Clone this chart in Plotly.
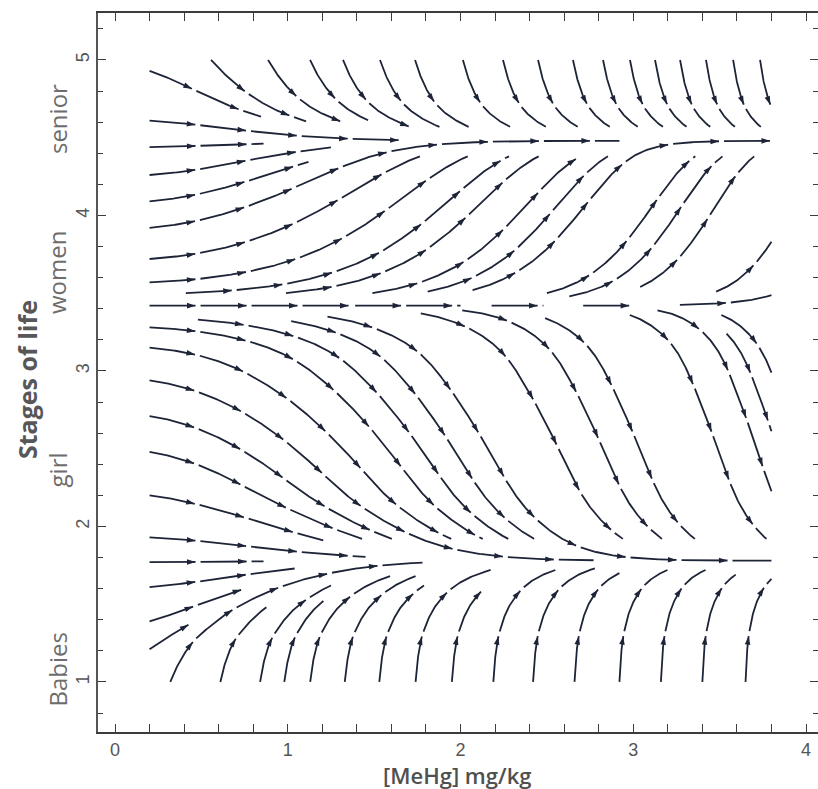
import math
import plotly.graph_objects as go

# ---------------- data ----------------
x_tick_vals = [0, 1, 2, 3, 4]
y_tick_vals = [1, 2, 3, 4, 5]
stage_names = ["Babies", "girl", "women", "senior"]
stage_levels = [1.08, 2.36, 3.63, 4.62]

# vertical drift of the stream field (per unit of [MeHg]) at stage levels
field_y = [1.0, 1.1, 1.3, 1.5, 1.65, 1.78, 1.95, 2.1, 2.3, 2.5, 2.75, 3.0, 3.2,
           3.35, 3.42, 3.6, 3.8, 4.0, 4.2, 4.34, 4.48, 4.66, 4.85, 5.0]
field_rate = [9.0, 6.0, 2.0, 0.8, 0.3, 0.0, -0.3, -0.5, -0.85, -0.9, -0.85, -0.75, -0.38,
              -0.15, 0.0, 0.25, 0.44, 0.52, 0.47, 0.31, 0.0, -0.46, -1.35, -2.2]
region_x = [0.2, 3.8]
region_y = [1.0, 5.0]

NAN = float("nan")

# streamlines entering from the top edge (y = 5)
top_x = [0.556, 0.886, 1.129, 1.320, 1.534, 1.737, 2.014, 2.246, 2.449, 2.651,
         2.825, 2.981, 3.126, 3.271, 3.421, 3.578, 3.734]
top_end_x = [1.106, 1.33, 1.465, 1.766, 1.89, 2.1, 3.8, 3.8, 3.8, 3.8,
             3.8, 3.8, 3.8, 3.8, 3.8, 3.8, 3.8]
top_end_y = [4.57] * 17

# streamlines entering from the left edge (x = 0.2)
left_y = [4.93, 4.61, 4.44, 4.26, 4.09, 3.92, 3.72, 3.57, 3.42, 3.28,
          3.15, 2.94, 2.71, 2.48, 2.20, 1.93, 1.77, 1.61, 1.39, 1.21]
left_end_x = [0.845, 1.65, 0.86, 1.25, 1.12, 2.92, 3.8, 3.8, 1.37, 3.8,
              3.8, 2.77, 3.8, 3.8, 1.28, 1.45, 0.86, 1.04, 0.73, 0.45]
left_end_y = [NAN, NAN, NAN, NAN, NAN, NAN, 4.38, 4.38, NAN, 1.92,
              1.92, NAN, 1.92, 1.92, 1.91, NAN, NAN, NAN, NAN, NAN]

# streamlines starting inside, around the middle divide
mid_x = [0.41, 0.99, 1.49, 1.81, 2.07, 2.50, 2.63, 3.04, 3.48, 3.27,
         1.39, 2.18, 2.71,
         0.48, 1.02, 1.23, 1.77, 2.01, 2.49, 2.98, 3.14, 3.51, 3.54]
mid_y = [3.50, 3.50, 3.50, 3.51, 3.52, 3.50, 3.48, 3.54, 3.51, 3.425,
         3.42, 3.42, 3.42,
         3.33, 3.32, 3.35, 3.37, 3.39, 3.34, 3.36, 3.39, 3.36, 3.24]
mid_end_x = [3.8, 3.8, 3.8, 3.8, 3.8, 3.8, 3.8, 3.8, 3.8, 3.8,
             2.0, 2.48, 3.0,
             3.8, 3.8, 3.8, 3.8, 3.8, 3.8, 3.8, 3.8, 3.8, 3.8]
mid_end_y = [4.38, 4.38, 4.38, 4.38, NAN, 4.38, 4.38, 4.38, 4.38, NAN,
             NAN, NAN, NAN,
             1.92, 1.92, NAN, 1.92, 1.92, 1.92, 1.92, 1.92, 1.92, 1.92]

# streamlines entering from the bottom edge (y = 1)
bot_x = [0.32, 0.61, 0.84, 0.98, 1.13, 1.33, 1.53, 1.74, 1.95, 2.19,
         2.42, 2.66, 2.92, 3.16, 3.40, 3.65]
bot_end_x = [1.78] + [3.8] * 15
bot_end_y = [NAN, 1.48, 1.62, 1.52, 1.68, 1.68, 1.62, 1.72, 1.60, 1.72,
             1.73, 1.70, 1.72, 1.72, 1.69, 1.67]

# ---------------- layout geometry ----------------
W, H = 818, 789
ML, MR, MT, MB = 98, 0, 13, 57
PW, PH = W - ML - MR, H - MT - MB
X_RANGE = [-0.0984, 4.0694]
Y_RANGE = [0.678, 5.302]
SX = PW / (X_RANGE[1] - X_RANGE[0])
SY = PH / (Y_RANGE[1] - Y_RANGE[0])


def rate(y):
    if y <= field_y[0]:
        return field_rate[0]
    if y >= field_y[-1]:
        return field_rate[-1]
    for i in range(1, len(field_y)):
        if y <= field_y[i]:
            t = (y - field_y[i - 1]) / (field_y[i] - field_y[i - 1])
            return field_rate[i - 1] + t * (field_rate[i] - field_rate[i - 1])
    return field_rate[-1]


def direction(x, y):
    vx = 1.0
    vy = x * rate(y)
    n = math.hypot(vx * SX, vy * SY)
    return vx / n, vy / n


def stream(x0, y0, ex, ey):
    xs, ys = [x0], [y0]
    x, y = x0, y0
    xlim = min(ex, region_x[1])
    down = (not math.isnan(ey)) and ey < y0
    ds = 1.0
    for _ in range(6000):
        k1 = direction(x, y)
        k2 = direction(x + 0.5 * ds * k1[0], y + 0.5 * ds * k1[1])
        k3 = direction(x + 0.5 * ds * k2[0], y + 0.5 * ds * k2[1])
        k4 = direction(x + ds * k3[0], y + ds * k3[1])
        xn = x + ds / 6 * (k1[0] + 2 * k2[0] + 2 * k3[0] + k4[0])
        yn = y + ds / 6 * (k1[1] + 2 * k2[1] + 2 * k3[1] + k4[1])
        t = 1.0
        done = False
        if xn >= xlim:
            t = min(t, (xlim - x) / (xn - x)); done = True
        if yn > region_y[1]:
            t = min(t, (region_y[1] - y) / (yn - y)); done = True
        if yn < region_y[0]:
            t = min(t, (region_y[0] - y) / (yn - y)); done = True
        if not math.isnan(ey):
            if (down and yn <= ey) or ((not down) and yn >= ey):
                t = min(t, (ey - y) / (yn - y)); done = True
        x, y = x + t * (xn - x), y + t * (yn - y)
        xs.append(x); ys.append(y)
        if done:
            break
    return xs, ys


PERIOD, DRAWN = 51, 46
line_x, line_y = [], []
arr_x, arr_y, arr_ang = [], [], []


def add_stream(x0, y0, ex, ey):
    xs, ys = stream(x0, y0, ex, ey)
    n = len(xs)
    start = 0
    while start < n - 1:
        end = min(start + DRAWN, n - 1)
        line_x.extend(xs[start:end + 1] + [None])
        line_y.extend(ys[start:end + 1] + [None])
        if end == start + DRAWN:
            a = max(end - 3, 0)
            dxp = (xs[end] - xs[a]) * SX
            dyp = (ys[end] - ys[a]) * SY
            arr_x.append(xs[end]); arr_y.append(ys[end])
            arr_ang.append(math.degrees(math.atan2(dxp, dyp)))
        start += PERIOD


for i in range(len(top_x)):
    add_stream(top_x[i], region_y[1], top_end_x[i], top_end_y[i])
for i in range(len(left_y)):
    add_stream(region_x[0], left_y[i], left_end_x[i], left_end_y[i])
for i in range(len(mid_x)):
    add_stream(mid_x[i], mid_y[i], mid_end_x[i], mid_end_y[i])
for i in range(len(bot_x)):
    add_stream(bot_x[i], region_y[0], bot_end_x[i], bot_end_y[i])

INK = "#1d2437"
fig = go.Figure()
fig.add_trace(go.Scatter(x=line_x, y=line_y, mode="lines",
                         line=dict(color=INK, width=1.8),
                         hoverinfo="skip", showlegend=False))
fig.add_trace(go.Scatter(x=arr_x, y=arr_y, mode="markers",
                         marker=dict(symbol="arrow", size=9, color=INK,
                                     angle=arr_ang, line=dict(width=0)),
                         hoverinfo="skip", showlegend=False))
fig.add_trace(go.Scatter(x=[None], y=[None], yaxis="y2", showlegend=False,
                         hoverinfo="skip"))

AX = "#3c3c3c"
TICKFONT = dict(family="Liberation Sans, Arial, sans-serif", size=18, color="#555555")
MINOR = dict(dtick=0.2, tick0=0, ticks="inside", ticklen=5, tickwidth=1,
             tickcolor=AX, showgrid=False)

fig.update_layout(
    width=W, height=H,
    margin=dict(l=ML, r=MR, t=MT, b=MB, pad=0),
    paper_bgcolor="white", plot_bgcolor="white",
    xaxis=dict(range=X_RANGE, showgrid=False, zeroline=False, automargin=False,
               showline=True, linecolor=AX, linewidth=2, mirror="allticks",
               ticks="inside", ticklen=8, tickwidth=1.2, tickcolor=AX,
               tickvals=x_tick_vals, tickfont=TICKFONT, ticklabeloverflow="allow",
               ticklabelstandoff=0, minor=MINOR),
    yaxis=dict(range=Y_RANGE, showgrid=False, zeroline=False, automargin=False,
               showline=True, linecolor="#555555", linewidth=2,
               ticks="inside", ticklen=8, tickwidth=1.2, tickcolor=AX,
               tickvals=y_tick_vals, tickangle=-90, tickfont=TICKFONT,
               ticklabeloverflow="allow", minor=MINOR),
    yaxis2=dict(range=Y_RANGE, overlaying="y", side="right", anchor="x",
                automargin=False, showgrid=False, zeroline=False, showline=False,
                ticks="inside", ticklen=8, tickwidth=1.2, tickcolor=AX,
                tickvals=y_tick_vals, showticklabels=False, minor=MINOR),
)

for name, lvl in zip(stage_names, stage_levels):
    fig.add_annotation(text=name, xref="paper", yref="y", x=(57 - ML) / PW, y=lvl,
                       xanchor="center", yanchor="middle", textangle=-90, showarrow=False,
                       font=dict(family="Open Sans, sans-serif", size=24, color="#6d6d6d"))

fig.add_annotation(text="Stages of life", xref="paper", yref="paper",
                   x=(27 - ML) / PW, y=(H - MB - 380) / PH, xanchor="center", yanchor="middle",
                   textangle=-90, showarrow=False,
                   font=dict(family="Open Sans, sans-serif", size=25, color="#575757", weight="bold"))

fig.add_annotation(text="[MeHg] mg/kg", xref="paper", yref="paper",
                   x=(457 - ML) / PW, y=(H - MB - 775) / PH, xanchor="center", yanchor="middle",
                   showarrow=False,
                   font=dict(family="Open Sans, sans-serif", size=22, color="#505050", weight=600))

fig.write_html("out.html",
               config={"displayModeBar": False},
               post_script="document.body.style.margin='0';"
                           "document.body.style.overflow='hidden';")
